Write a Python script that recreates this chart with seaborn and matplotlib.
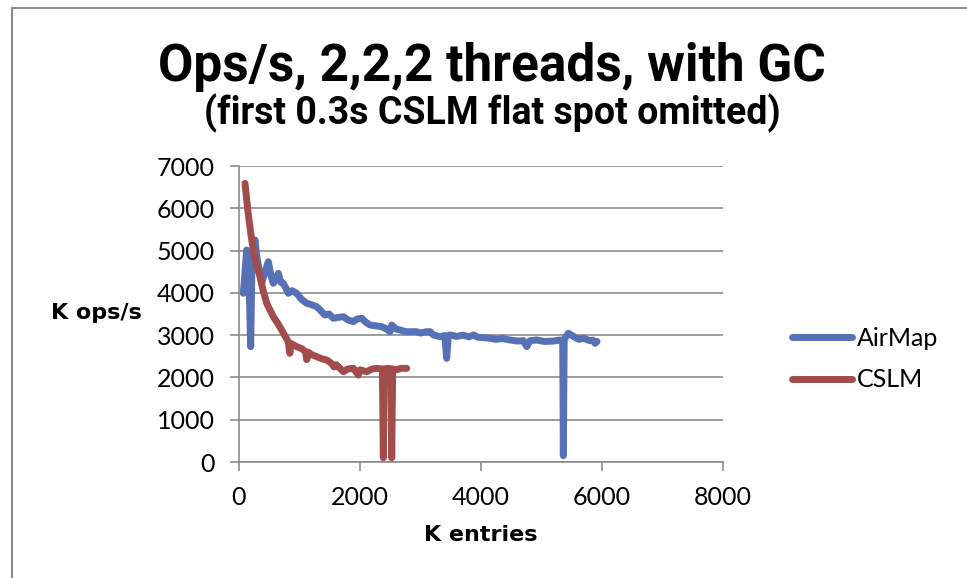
import numpy as np
import pandas as pd
import matplotlib
matplotlib.use("Agg")
import matplotlib.pyplot as plt
import seaborn as sns
from matplotlib.patches import Rectangle

# データ
airmap_x = [71, 100, 127, 160, 193, 215, 264, 300, 340, 375, 420, 485, 530, 567, 610, 650,
            690, 733, 780, 815, 880, 953, 1030, 1119, 1200, 1284, 1350, 1421, 1490, 1560,
            1640, 1725, 1800, 1890, 1950, 2028, 2100, 2165, 2260, 2359, 2430, 2496, 2524,
            2590, 2661, 2760, 2882, 2937, 3000, 3103, 3157, 3213, 3323, 3400, 3433, 3460,
            3488, 3600, 3700, 3800, 3873, 3950, 4050, 4149, 4250, 4350, 4480, 4600, 4700,
            4756, 4810, 4921, 5050, 5200, 5306, 5350, 5361, 5375, 5444, 5550, 5620, 5692,
            5800, 5850, 5885, 5918]
airmap_y = [3990, 4500, 5013, 4600, 2727, 4800, 5250, 4800, 4500, 4226, 4450, 4737, 4400, 4226,
            4350, 4462, 4250, 4226, 4100, 3990, 4050, 3990, 3850, 3753, 3720, 3673, 3580, 3477,
            3500, 3398, 3420, 3437, 3360, 3320, 3380, 3398, 3300, 3240, 3220, 3201, 3150, 3082,
            3240, 3150, 3122, 3080, 3082, 3082, 3050, 3082, 3082, 3004, 2964, 2990, 2450, 2990,
            3004, 2970, 3000, 2960, 3004, 2950, 2940, 2925, 2900, 2920, 2885, 2860, 2870, 2727,
            2870, 2885, 2850, 2860, 2885, 2870, 150, 2900, 3044, 2950, 2900, 2925, 2870, 2880,
            2806, 2850]

cslm_x = [99, 150, 200, 237, 290, 347, 400, 458, 510, 567, 640, 705, 760, 815, 840, 860, 953,
          1040, 1100, 1119, 1140, 1200, 1284, 1370, 1450, 1530, 1570, 1610, 1725, 1800, 1890,
          1972, 2000, 2111, 2200, 2276, 2370, 2386, 2400, 2460, 2510, 2524, 2540, 2600, 2680,
          2772]
cslm_y = [6590, 5900, 5350, 5013, 4650, 4383, 4050, 3753, 3600, 3437, 3280, 3122, 2980, 2846,
          2570, 2800, 2727, 2680, 2600, 2420, 2600, 2540, 2491, 2440, 2412, 2330, 2250, 2300,
          2136, 2200, 2215, 2057, 2180, 2136, 2200, 2215, 2200, 100, 2200, 2215, 2200, 100,
          2200, 2180, 2215, 2215]

series_names = ["AirMap", "CSLM"]
series_colors = ["#5671B6", "#A24C4C"]
x_ticks = [0, 2000, 4000, 6000, 8000]
y_ticks = [0, 1000, 2000, 3000, 4000, 5000, 6000, 7000]

df = pd.concat([
    pd.DataFrame({"K entries": airmap_x, "K ops/s": airmap_y, "series": "AirMap"}),
    pd.DataFrame({"K entries": cslm_x, "K ops/s": cslm_y, "series": "CSLM"}),
], ignore_index=True)

sns.set_theme(style="white")
plt.rcParams["font.family"] = ["Lato", "DejaVu Sans"]
plt.rcParams["text.color"] = "black"

fig = plt.figure(figsize=(9.67, 5.78), dpi=100)
ax = fig.add_axes([239 / 967, 1 - 462 / 578, 484 / 967, 296 / 578])

grid_c = "#8c8c8c"
sns.lineplot(data=df, x="K entries", y="K ops/s", hue="series", hue_order=series_names,
             palette=dict(zip(series_names, series_colors)), estimator=None, sort=False,
             linewidth=5.0, ax=ax, legend=False)
for ln in ax.lines:
    ln.set_solid_capstyle("round")
    ln.set_solid_joinstyle("round")

ax.set_xlim(0, 8000)
ax.set_ylim(0, 7000)
ax.set_xticks(x_ticks)
ax.set_yticks(y_ticks)
ax.set_xlabel("")
ax.set_ylabel("")
ax.yaxis.grid(True, color=grid_c, linewidth=1.2)
ax.xaxis.grid(False)
ax.set_axisbelow(True)
for s in ["top", "right"]:
    ax.spines[s].set_visible(False)
for s in ["left", "bottom"]:
    ax.spines[s].set_color(grid_c)
    ax.spines[s].set_linewidth(1.2)
ax.tick_params(axis="both", which="major", direction="out", length=6.5, width=1.2,
               color=grid_c, labelsize=18, labelcolor="black", pad=11,
               left=True, bottom=True)

# 凡例
leg = ax.legend(ax.lines[:2], series_names, loc="center left", frameon=False,
                bbox_to_anchor=(792 / 967, 1 - 359 / 578), bbox_transform=fig.transFigure,
                fontsize=18, handlelength=2.4, handletextpad=0.2, labelspacing=0.75,
                borderpad=0, borderaxespad=0)
for t in leg.get_texts():
    t.set_color("black")

# タイトル
fig.text(492 / 967, 1 - 67 / 578, "Ops/s, 2,2,2 threads, with GC", ha="center", va="center",
         fontsize=37, fontweight="bold", color="black", family=["Roboto", "DejaVu Sans"])
fig.text(492 / 967, 1 - 113 / 578, "(first 0.3s CSLM flat spot omitted)", ha="center",
         va="center", fontsize=27, fontweight="bold", color="black",
         family=["Roboto", "DejaVu Sans"])
fig.text(96 / 967, 1 - 313 / 578, "K ops/s", ha="center", va="center", fontsize=16,
         fontweight="bold", color="black", family=["DejaVu Sans"])
fig.text(481 / 967, 1 - 535 / 578, "K entries", ha="center", va="center", fontsize=16,
         fontweight="bold", color="black", family=["DejaVu Sans"])

# 外枠
fig.patches.append(Rectangle((12 / 967, -0.2), 1.2, 1.2 - 8 / 578, fill=False,
                             edgecolor="#8c8c8c", linewidth=1.5, transform=fig.transFigure,
                             figure=fig))

fig.savefig("out.png", dpi=100)
